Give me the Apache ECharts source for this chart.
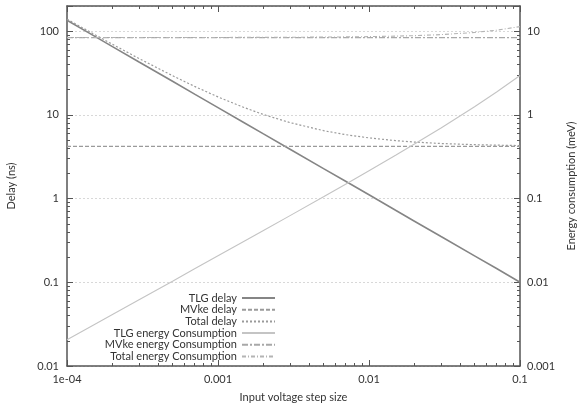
<!DOCTYPE html>
<html><head><meta charset="utf-8">
<script src="https://cdn.jsdelivr.net/npm/echarts@6/dist/echarts.min.js"></script>
<style>html,body{margin:0;padding:0;background:#fff}#c{width:577px;height:405px}</style>
</head><body><div id="c"></div>
<script>
// Data
const xValues = [1e-4, 1.5e-4, 2e-4, 3e-4, 5e-4, 7e-4, 1e-3, 1.5e-3, 2e-3, 3e-3, 5e-3, 7e-3, 0.01, 0.015, 0.02, 0.03, 0.05, 0.07, 0.1];
const tlgDelay = [135, 88.5, 65.5, 42.9, 25.2, 17.7, 12.2, 8.01, 5.93, 3.89, 2.28, 1.61, 1.11, 0.725, 0.537, 0.352, 0.207, 0.146, 0.100];
const mvkeDelay = [4.2, 4.2, 4.2, 4.2, 4.2, 4.2, 4.2, 4.2, 4.2, 4.2, 4.2, 4.2, 4.2, 4.2, 4.2, 4.2, 4.2, 4.2, 4.2];
const totalDelay = [139.2, 92.7, 69.7, 47.1, 29.4, 21.9, 16.4, 12.2, 10.1, 8.09, 6.48, 5.81, 5.31, 4.93, 4.74, 4.55, 4.41, 4.35, 4.30];
const tlgEnergy = [0.00206, 0.00309, 0.00412, 0.00619, 0.0103, 0.0145, 0.0207, 0.0311, 0.0416, 0.0626, 0.1052, 0.1486, 0.215, 0.329, 0.448, 0.698, 1.253, 1.878, 2.95];
const mvkeEnergy = [8.4, 8.4, 8.4, 8.4, 8.4, 8.4, 8.4, 8.4, 8.4, 8.4, 8.4, 8.4, 8.4, 8.4, 8.4, 8.4, 8.4, 8.4, 8.4];
const totalEnergy = [8.402, 8.403, 8.404, 8.406, 8.410, 8.415, 8.421, 8.431, 8.442, 8.463, 8.505, 8.549, 8.615, 8.729, 8.848, 9.098, 9.653, 10.28, 11.35];

const xMajorTicks = [1e-4, 1e-3, 1e-2, 1e-1];
const xTickLabels = ['1e-04', '0.001', '0.01', '0.1'];
const yLeftMajor = [0.01, 0.1, 1, 10, 100];
const yLeftLabels = ['0.01', '0.1', '1', '10', '100'];
const yRightMajor = [0.001, 0.01, 0.1, 1, 10];
const yRightLabels = ['0.001', '0.01', '0.1', '1', '10'];
const seriesNames = ['TLG delay', 'MVke delay', 'Total delay', 'TLG energy Consumption', 'MVke energy Consumption', 'Total energy Consumption'];

const FONT = 'Lato';
const AX = '#555';
const TXT = '#333';

function lbl(list, labels) {
  return function (v) {
    for (let i = 0; i < list.length; i++) if (Math.abs(Math.log10(v) - Math.log10(list[i])) < 1e-6) return labels[i];
    return '';
  };
}

const tick = { show: true, inside: true, length: 6, lineStyle: { color: AX, width: 1 } };
const minor = { show: true, splitNumber: 9, length: 3, lineStyle: { color: AX, width: 1 } };

const xAxes = [
  {
    type: 'log', logBase: 10, min: 1e-4, max: 0.1, position: 'bottom',
    name: 'Input voltage step size', nameLocation: 'middle', nameGap: 26,
    nameTextStyle: { fontFamily: FONT, fontSize: 11, color: TXT },
    axisLine: { show: true, lineStyle: { color: AX, width: 1.5 } },
    axisTick: tick, minorTick: minor,
    axisLabel: { show: true, margin: 8, fontFamily: FONT, fontSize: 11, color: TXT, customValues: xMajorTicks, formatter: lbl(xMajorTicks, xTickLabels) },
    splitLine: { show: false }
  },
  {
    type: 'log', logBase: 10, min: 1e-4, max: 0.1, position: 'top',
    axisLine: { show: true, lineStyle: { color: AX, width: 1.5 } },
    axisTick: tick, minorTick: minor,
    axisLabel: { show: false }, splitLine: { show: false }
  }
];

const yAxes = [
  {
    type: 'log', logBase: 10, min: 0.01, max: 200, position: 'left',
    name: 'Delay (ns)', nameLocation: 'middle', nameGap: 50, nameRotate: 90,
    nameTextStyle: { fontFamily: FONT, fontSize: 11, color: TXT },
    axisLine: { show: true, lineStyle: { color: AX, width: 1.5 } },
    axisTick: tick, minorTick: minor,
    axisLabel: { margin: 8, fontFamily: FONT, fontSize: 11, color: TXT, customValues: yLeftMajor, formatter: lbl(yLeftMajor, yLeftLabels) },
    splitLine: { show: true, lineStyle: { color: '#d8d8d8', type: [2, 2], width: 1 } }
  },
  {
    type: 'log', logBase: 10, min: 0.001, max: 20, position: 'right',
    name: 'Energy consumption (meV)', nameLocation: 'middle', nameGap: 43, nameRotate: 90,
    nameTextStyle: { fontFamily: FONT, fontSize: 11, color: TXT },
    axisLine: { show: true, lineStyle: { color: AX, width: 1.5 } },
    axisTick: tick, minorTick: minor,
    axisLabel: { margin: 7, fontFamily: FONT, fontSize: 11, color: TXT, customValues: yRightMajor, formatter: lbl(yRightMajor, yRightLabels) },
    splitLine: { show: false }
  }
];

const seriesData = [tlgDelay, mvkeDelay, totalDelay, tlgEnergy, mvkeEnergy, totalEnergy];
const styles = [
  { color: '#858585', width: 1.6, type: 'solid', y: 0 },
  { color: '#9a9a9a', width: 1.3, type: [4, 2], y: 0 },
  { color: '#9a9a9a', width: 1.2, type: [2, 2], y: 0 },
  { color: '#c4c4c4', width: 1.1, type: 'solid', y: 1 },
  { color: '#a8a8a8', width: 1.2, type: [6, 2, 2, 2], y: 1 },
  { color: '#b4b4b4', width: 1.1, type: [4, 2, 1, 2], y: 1 }
];

const series = seriesNames.map((n, i) => ({
  name: n, type: 'line', xAxisIndex: 0, yAxisIndex: styles[i].y,
  data: xValues.map((x, j) => [x, seriesData[i][j]]),
  symbol: 'none', smooth: false, silent: true, animation: false,
  lineStyle: { color: styles[i].color, width: styles[i].width, type: styles[i].type },
  itemStyle: { color: styles[i].color },
  z: 3
}));

const legendTops = [292.5, 304.2, 315.9, 327.6, 339.3, 351];
const legends = seriesNames.map((n, i) => ({
  data: [n], right: 301, top: legendTops[i], orient: 'vertical', align: 'right',
  itemWidth: 33, itemHeight: 8, padding: 0, itemGap: 0,
  itemStyle: { opacity: 0 },
  textStyle: { fontFamily: FONT, fontSize: 11, color: TXT }, selectedMode: false
}));

const chart = echarts.init(document.getElementById('c'), null, { renderer: 'canvas' });
chart.setOption({
  animation: false,
  backgroundColor: '#fff',
  grid: { left: 67, right: 57, top: 6, bottom: 39, containLabel: false, outerBoundsMode: 'none' },
  xAxis: xAxes,
  yAxis: yAxes,
  legend: legends,
  series: series
});
</script>
</body></html>
